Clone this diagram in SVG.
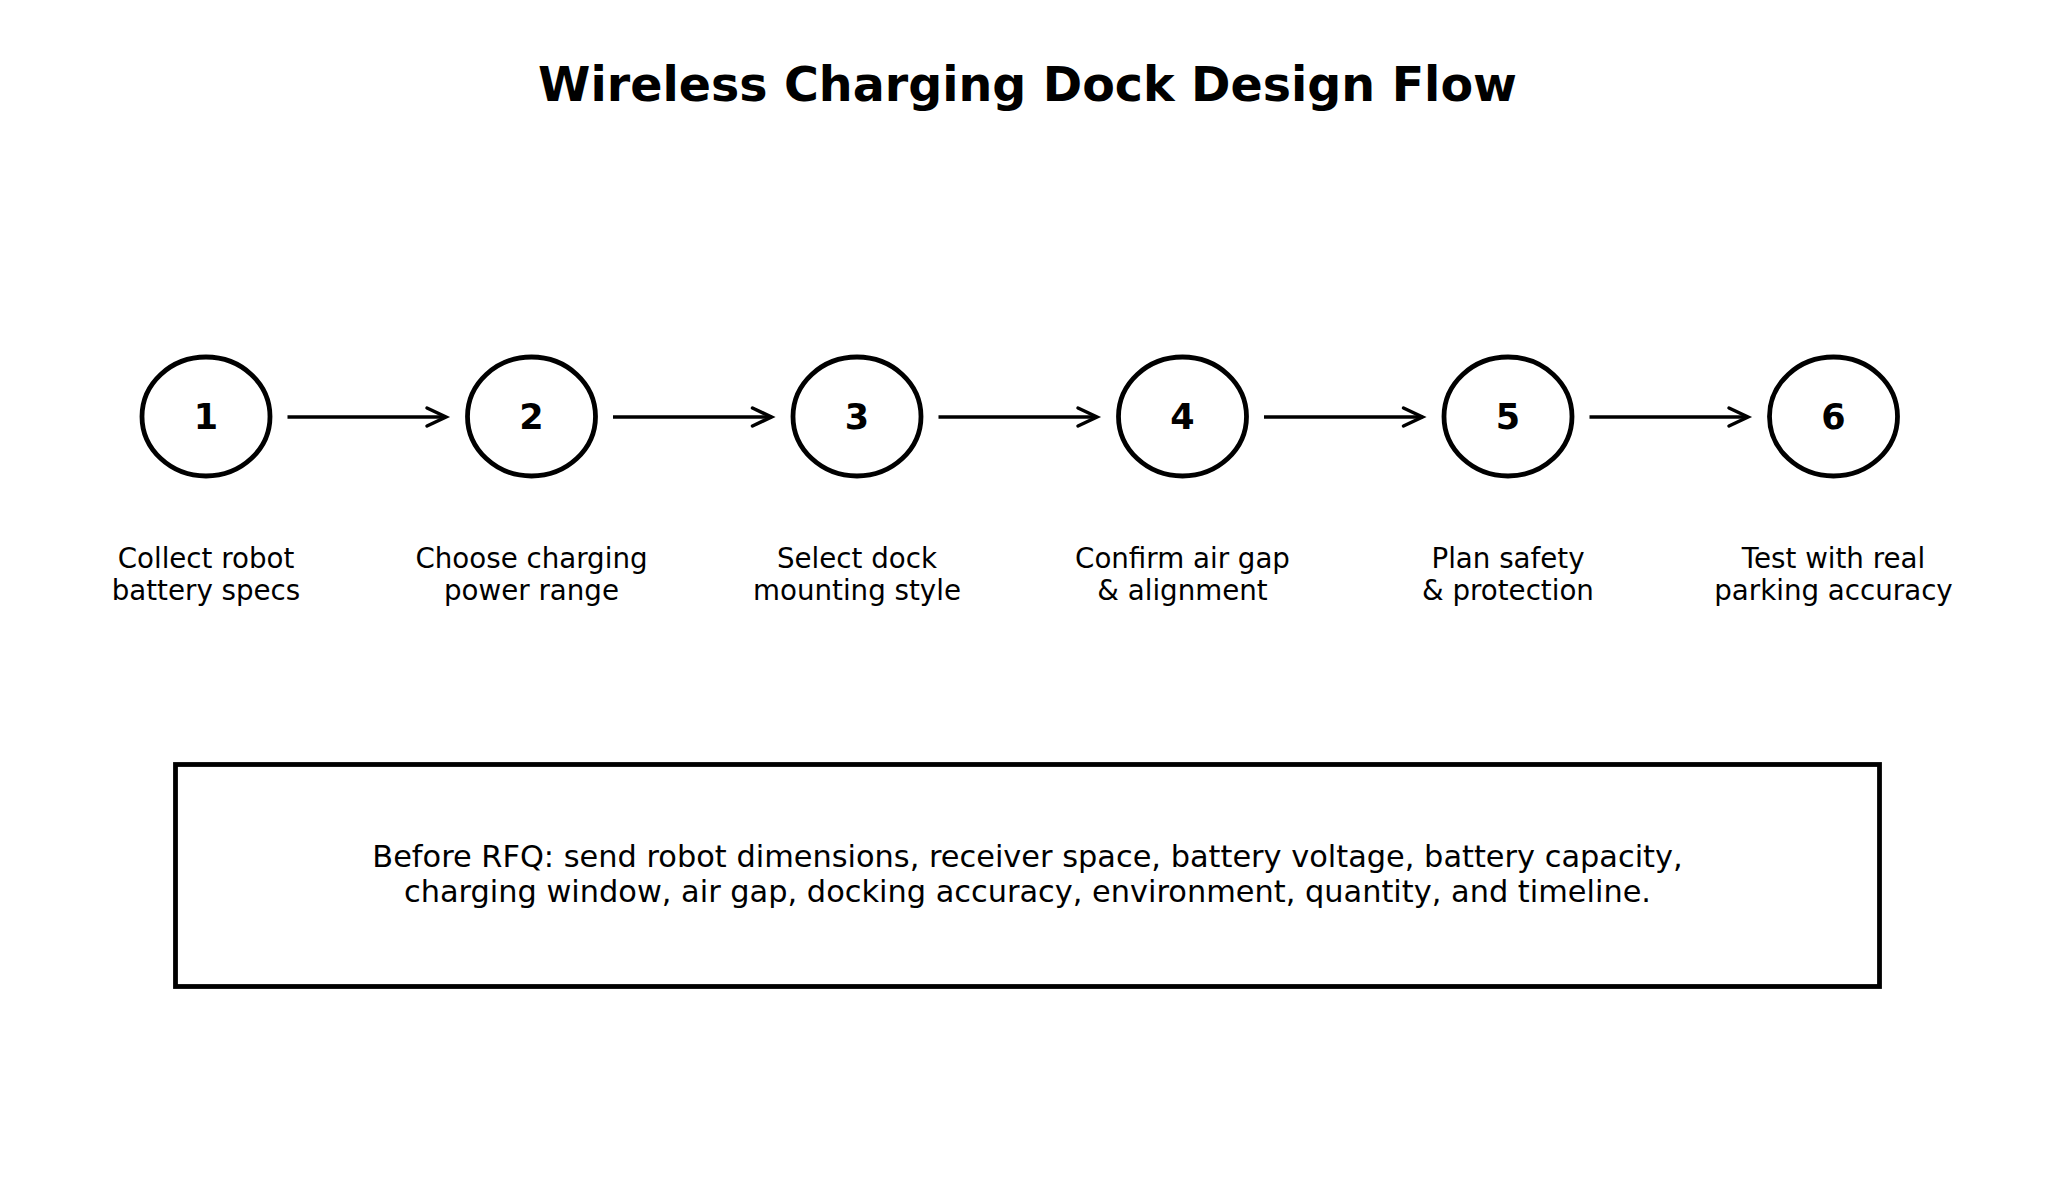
<svg xmlns="http://www.w3.org/2000/svg" width="2055" height="1195" viewBox="0 0 2055 1195">
<style>
.title{font-family:"DejaVu Sans",sans-serif;font-weight:bold;font-size:47.5px;fill:#000;text-anchor:middle}
.num{font-family:"DejaVu Sans",sans-serif;font-weight:bold;font-size:35px;fill:#000;text-anchor:middle}
.lbl{font-family:"DejaVu Sans",sans-serif;font-size:27.7px;fill:#000;text-anchor:middle}
.note{font-family:"DejaVu Sans",sans-serif;font-size:30.4px;fill:#000;text-anchor:middle}
.node ellipse{fill:#fff;stroke:#000;stroke-width:4.8}
.edge{stroke:#000;stroke-width:3.5;fill:none}
.head{stroke:#000;stroke-width:3.5;fill:none;stroke-linecap:round;stroke-linejoin:miter}
</style>
<defs>
<marker id="arr" markerUnits="userSpaceOnUse" viewBox="-22 -12 26 24" refX="0" refY="0" markerWidth="26" markerHeight="24" orient="auto" overflow="visible">
<path class="head" d="M-19,-9 L0,0 L-19,9"/>
</marker>
</defs>
<rect width="2055" height="1195" fill="#fff"/>
<text class="title" x="1027.5" y="101">Wireless Charging Dock Design Flow</text>
<g id="connectors">
<path class="edge" d="M287.5,417 H446" marker-end="url(#arr)"/>
<path class="edge" d="M613,417 H771.5" marker-end="url(#arr)"/>
<path class="edge" d="M938.5,417 H1097" marker-end="url(#arr)"/>
<path class="edge" d="M1264,417 H1422.5" marker-end="url(#arr)"/>
<path class="edge" d="M1589.5,417 H1748" marker-end="url(#arr)"/>
</g>
<g id="node1" class="node"><ellipse cx="206" cy="416.5" rx="64" ry="59.5"/><text class="num" x="206" y="428.5">1</text>
<text class="lbl" x="206" y="568">Collect robot</text><text class="lbl" x="206" y="600">battery specs</text></g>
<g id="node2" class="node"><ellipse cx="531.5" cy="416.5" rx="64" ry="59.5"/><text class="num" x="531.5" y="428.5">2</text>
<text class="lbl" x="531.5" y="568">Choose charging</text><text class="lbl" x="531.5" y="600">power range</text></g>
<g id="node3" class="node"><ellipse cx="857" cy="416.5" rx="64" ry="59.5"/><text class="num" x="857" y="428.5">3</text>
<text class="lbl" x="857" y="568">Select dock</text><text class="lbl" x="857" y="600">mounting style</text></g>
<g id="node4" class="node"><ellipse cx="1182.5" cy="416.5" rx="64" ry="59.5"/><text class="num" x="1182.5" y="428.5">4</text>
<text class="lbl" x="1182.5" y="568">Confirm air gap</text><text class="lbl" x="1182.5" y="600">&amp; alignment</text></g>
<g id="node5" class="node"><ellipse cx="1508" cy="416.5" rx="64" ry="59.5"/><text class="num" x="1508" y="428.5">5</text>
<text class="lbl" x="1508" y="568">Plan safety</text><text class="lbl" x="1508" y="600">&amp; protection</text></g>
<g id="node6" class="node"><ellipse cx="1833.5" cy="416.5" rx="64" ry="59.5"/><text class="num" x="1833.5" y="428.5">6</text>
<text class="lbl" x="1833.5" y="568">Test with real</text><text class="lbl" x="1833.5" y="600">parking accuracy</text></g>
<g id="note">
<rect x="175.5" y="764.5" width="1704" height="222" fill="#fff" stroke="#000" stroke-width="4.8"/>
<text class="note" x="1027.5" y="867">Before RFQ: send robot dimensions, receiver space, battery voltage, battery capacity,</text>
<text class="note" x="1027.5" y="901.5">charging window, air gap, docking accuracy, environment, quantity, and timeline.</text>
</g>
</svg>
